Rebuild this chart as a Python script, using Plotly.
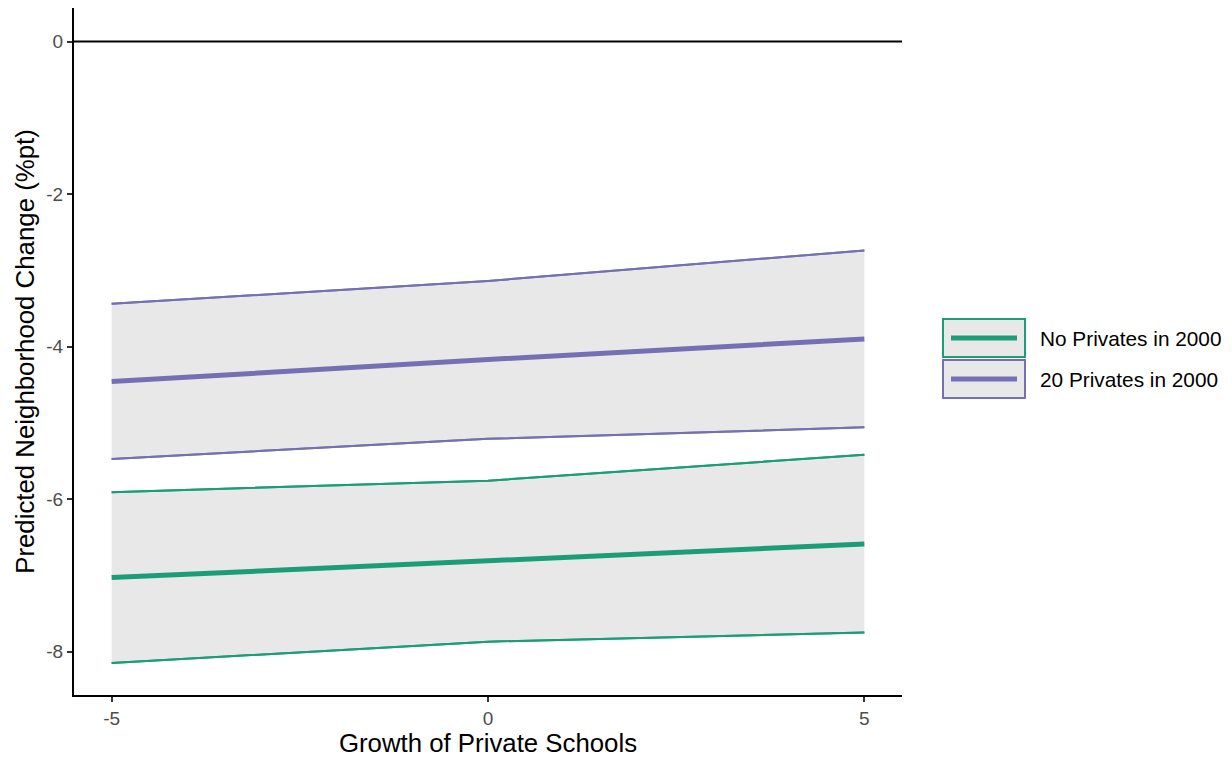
import plotly.graph_objects as go

# ---- data ----
x_vals = [-5, 0, 5]
none_mean = [-7.03, -6.81, -6.59]
none_lo = [-8.15, -7.87, -7.75]
none_hi = [-5.91, -5.76, -5.42]
twenty_mean = [-4.46, -4.17, -3.90]
twenty_lo = [-5.475, -5.21, -5.06]
twenty_hi = [-3.44, -3.14, -2.74]
series_names = ["No Privates in 2000", "20 Privates in 2000"]
series_colors = ["#1b9e77", "#7570b3"]
x_ticks = [-5, 0, 5]
x_tick_text = ["-5", "0", "5"]
y_ticks = [-8, -6, -4, -2, 0]
y_tick_text = ["-8", "-6", "-4", "-2", "0"]

RIBBON = "#e8e8e8"
OFF = 8  # browser default body margin
W, H = 1232 - OFF, 757 - OFF
ML, MR, MT, MB = 74 - OFF, 330, 0, 62

fig = go.Figure()

for name, color, mean, lo, hi in [
    (series_names[0], series_colors[0], none_mean, none_lo, none_hi),
    (series_names[1], series_colors[1], twenty_mean, twenty_lo, twenty_hi),
]:
    fig.add_trace(go.Scatter(x=x_vals, y=lo, mode="lines",
                             line=dict(color=color, width=2), showlegend=False,
                             hoverinfo="skip"))
    fig.add_trace(go.Scatter(x=x_vals, y=hi, mode="lines",
                             line=dict(color=color, width=2), fill="tonexty",
                             fillcolor=RIBBON, showlegend=False, hoverinfo="skip"))
    fig.add_trace(go.Scatter(x=x_vals, y=mean, mode="lines", name=name,
                             line=dict(color=color, width=5), showlegend=False))

# re-draw thin bound lines over the fills
for color, lo, hi in [(series_colors[0], none_lo, none_hi), (series_colors[1], twenty_lo, twenty_hi)]:
    for arr in (lo, hi):
        fig.add_trace(go.Scatter(x=x_vals, y=arr, mode="lines",
                                 line=dict(color=color, width=2), showlegend=False,
                                 hoverinfo="skip"))

# zero reference line
fig.add_hline(y=0, line=dict(color="black", width=2))

# ---- custom legend (ggplot-style keys), positions given in page pixels ----
pw = W - ML - MR
ph = H - MT - MB
def px_x(px):
    return (px - OFF - ML) / pw
def px_y(py):
    return (H - MB - (py - OFF)) / ph

key_boxes = [(943, 319, 1025, 357), (943, 360, 1025, 398)]
for (x0, y0, x1, y1), name, color in zip(key_boxes, series_names, series_colors):
    fig.add_shape(type="rect", xref="paper", yref="paper",
                  x0=px_x(x0), x1=px_x(x1), y0=px_y(y1), y1=px_y(y0),
                  fillcolor=RIBBON, line=dict(color=color, width=2), layer="above")
    yc = (y0 + y1) / 2
    fig.add_shape(type="line", xref="paper", yref="paper",
                  x0=px_x(x0 + 8), x1=px_x(x1 - 8), y0=px_y(yc), y1=px_y(yc),
                  line=dict(color=color, width=5), layer="above")
    fig.add_annotation(xref="paper", yref="paper", x=px_x(1038), y=px_y(yc),
                       text=name, showarrow=False, xanchor="left", yanchor="middle",
                       font=dict(size=20.8, color="black"))

axis_common = dict(showgrid=False, zeroline=False, showline=True, linecolor="black",
                   linewidth=2, ticks="outside", ticklen=5, tickwidth=1.5,
                   tickcolor="#333333", tickfont=dict(size=19, color="#4d4d4d"))

fig.update_layout(
    width=W, height=H,
    margin=dict(l=ML, r=MR, t=MT, b=MB),
    plot_bgcolor="white", paper_bgcolor="white",
    font=dict(family="Liberation Sans, Arial, sans-serif", color="black"),
    xaxis=dict(range=[-5.5, 5.5], tickvals=x_ticks, ticktext=x_tick_text,
               title=dict(text="Growth of Private Schools", font=dict(size=25.8), standoff=2),
               **axis_common),
    yaxis=dict(range=[-8.57, 0.44], tickvals=y_ticks, ticktext=y_tick_text,
               title=dict(text="Predicted Neighborhood Change (%pt)", font=dict(size=25.8), standoff=4),
               **axis_common),
    showlegend=False,
)

fig.write_html("out.html")
